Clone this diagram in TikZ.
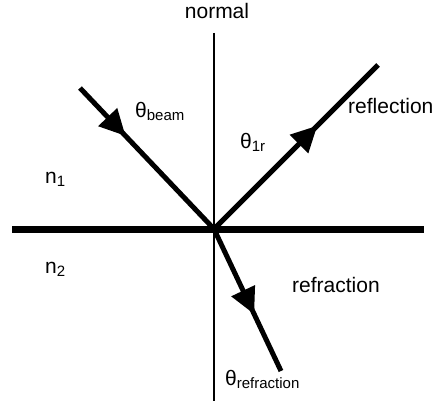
\documentclass[tikz,border=0pt]{standalone}
\usepackage{fontspec}
\setmainfont{Liberation Sans}
\usetikzlibrary{arrows.meta,decorations.markings}
\newcommand{\bigtxt}{\fontsize{21}{25}\selectfont}
\newcommand{\thsub}[1]{θ\raisebox{-3pt}{\fontsize{15}{17}\selectfont #1}}
\tikzset{
  lbl/.style={anchor=base west, inner sep=0pt, font=\bigtxt},
  ray/.style={line width=5pt},
  midarrow/.style={postaction={decorate}, decoration={markings,
     mark=at position #1 with {\arrow{Triangle[length=26pt,width=25pt]}}}}
}
\begin{document}
\begin{tikzpicture}[x=1pt,y=-1pt]
\useasboundingbox (0,0) rectangle (435,404);
% points
\coordinate (O) at (214,229);
\coordinate (ntop) at (214,33);
\coordinate (nbot) at (214,401);
\coordinate (sL) at (12,229);
\coordinate (sR) at (424,229);
\coordinate (inc) at (80,88);
\coordinate (refl) at (378,65);
\coordinate (refr) at (281,371);
% normal and interface
\draw[line width=1.8pt] (ntop) -- (nbot);
\draw[line width=7pt] (sL) -- (sR);
% rays
\draw[ray, midarrow=0.34] (inc) -- (O);
\draw[ray, midarrow=0.63] (O) -- (refl);
\draw[ray, midarrow=0.6] (O) -- (refr);
% labels
\node[font=\bigtxt, inner sep=0pt, anchor=base] (tnormal) at (217,19) {normal};
\node[lbl] (tbeam) at (135,117) {\thsub{beam}};
\node[lbl] (t1r) at (240,148) {\thsub{1r}};
\node[lbl] (treflection) at (348,113) {reflection};
\node[lbl] (tn1) at (45,183) {n\raisebox{-3pt}{\fontsize{15}{17}\selectfont 1}};
\node[lbl] (tn2) at (45,273) {n\raisebox{-3pt}{\fontsize{15}{17}\selectfont 2}};
\node[lbl] (trefraction) at (292,292) {refraction};
\node[lbl] (trefr) at (225,385) {\thsub{refraction}};
\end{tikzpicture}
\end{document}
